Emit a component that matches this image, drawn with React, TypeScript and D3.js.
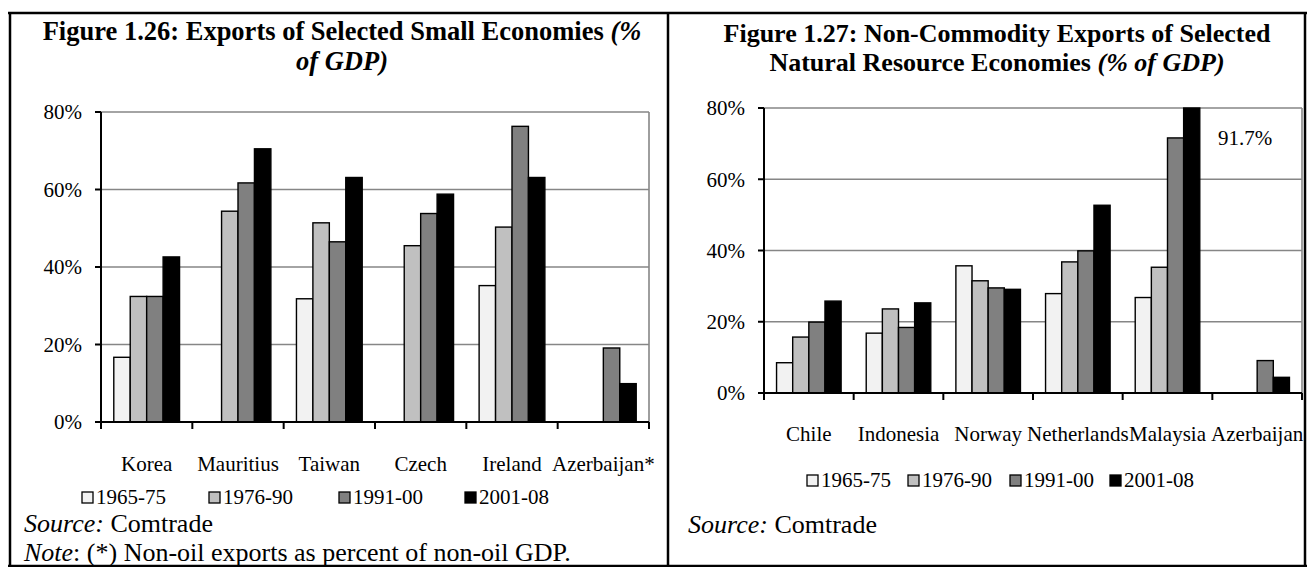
import React from "react";
import * as d3 from "d3";

const SERIES = ["1965-75", "1976-90", "1991-00", "2001-08"];
const COLORS = ["#f2f2f2", "#c0c0c0", "#808080", "#000000"];

const LEFT_CATS = ["Korea", "Mauritius", "Taiwan", "Czech", "Ireland", "Azerbaijan*"];
const LEFT_1965 = [16.7, null, 31.8, null, 35.2, null];
const LEFT_1976 = [32.4, 54.4, 51.4, 45.5, 50.3, null];
const LEFT_1991 = [32.4, 61.7, 46.5, 53.8, 76.3, 19.1];
const LEFT_2001 = [42.6, 70.5, 63.1, 58.8, 63.1, 9.9];

const RIGHT_CATS = ["Chile", "Indonesia", "Norway", "Netherlands", "Malaysia", "Azerbaijan"];
const RIGHT_1965 = [8.5, 16.8, 35.7, 27.9, 26.8, null];
const RIGHT_1976 = [15.7, 23.6, 31.5, 36.8, 35.3, null];
const RIGHT_1991 = [19.9, 18.4, 29.5, 39.9, 71.6, 9.1];
const RIGHT_2001 = [25.8, 25.3, 29.1, 52.7, 91.7, 4.4];

const Y_TICKS = [0, 20, 40, 60, 80];
const MALAYSIA_LABEL = "91.7%";

const FONT = "'Liberation Serif', 'Times New Roman', serif";

type ChartProps = {
  cats: string[];
  series: (number | null)[][];
  x0: number; x1: number; yTop: number; yBot: number;
  tickLabelY: number;
  fontSize: number;
};

function BarChart({ cats, series, x0, x1, yTop, yBot, tickLabelY, fontSize }: ChartProps) {
  const x = d3.scaleBand<string>().domain(cats).range([x0, x1]).paddingInner(0.28).paddingOuter(0.14);
  const xb = d3.scaleBand<string>().domain(cats).range([x0, x1]);
  const y = d3.scaleLinear().domain([0, 80]).range([yBot, yTop]);
  const inner = d3.scaleBand<number>().domain(SERIES.map((_, i) => i)).range([0, x.bandwidth()]);
  return (
    <g>
      {Y_TICKS.filter((t) => t > 0).map((t) => (
        <line key={t} x1={x0} x2={x1} y1={y(t)} y2={y(t)} stroke="#868686" strokeWidth={1.6} />
      ))}
      <line x1={x1} x2={x1} y1={y(80)} y2={y(0)} stroke="#868686" strokeWidth={1.6} />
      {cats.map((c, ci) => (
        <g key={c}>
          {series.map((s, si) => {
            const v = s[ci];
            if (v == null) return null;
            const top = y(Math.min(v, 80));
            return (
              <rect key={si} x={(x(c) as number) + (inner(si) as number)} y={top}
                width={inner.bandwidth()} height={y(0) - top}
                fill={COLORS[si]} stroke="#000" strokeWidth={1.4} />
            );
          })}
        </g>
      ))}
      <line x1={x0} x2={x0} y1={y(80)} y2={y(0)} stroke="#000" strokeWidth={2} />
      {Y_TICKS.map((t) => (
        <g key={t}>
          <line x1={x0 - 6} x2={x0} y1={y(t)} y2={y(t)} stroke="#000" strokeWidth={2} />
          <text x={x0 - 19} y={y(t)} dy="0.35em" textAnchor="end" fontSize={fontSize} fontFamily={FONT}>{t}%</text>
        </g>
      ))}
      <line x1={x0} x2={x1} y1={y(0)} y2={y(0)} stroke="#000" strokeWidth={2} />
      {[...cats.map((c) => xb(c) as number), x1].map((px, i) => (
        <line key={i} x1={px} x2={px} y1={y(0)} y2={y(0) + 7} stroke="#000" strokeWidth={2} />
      ))}
      {cats.map((c) => (
        <text key={c} x={(xb(c) as number) + xb.bandwidth() / 2} y={tickLabelY} textAnchor="middle" fontSize={fontSize} fontFamily={FONT}>{c}</text>
      ))}
    </g>
  );
}

function Legend({ xs, y, fontSize }: { xs: number[]; y: number; fontSize: number }) {
  return (
    <g>
      {SERIES.map((s, i) => (
        <g key={s}>
          <rect x={xs[i]} y={y - 12} width={11} height={11} fill={COLORS[i]} stroke="#000" strokeWidth={1.3} />
          <text x={xs[i] + 14} y={y} fontSize={fontSize} fontFamily={FONT}>{s}</text>
        </g>
      ))}
    </g>
  );
}

export default function App() {
  const W = 1307, H = 567;
  return (
    <svg width={W} height={H} style={{ position: "absolute", left: 0, top: 0, background: "#fff" }}>
      <rect x={0} y={0} width={W} height={H} fill="#fff" />
      {/* frame */}
      <line x1={8} x2={1307} y1={13} y2={13} stroke="#000" strokeWidth={2.5} />
      <line x1={10} x2={10} y1={12} y2={567} stroke="#000" strokeWidth={2.5} />
      <line x1={668} x2={668} y1={12} y2={567} stroke="#000" strokeWidth={2.5} />
      <line x1={1305} x2={1305} y1={12} y2={567} stroke="#000" strokeWidth={2.5} />
      <line x1={8} x2={1307} y1={566} y2={566} stroke="#000" strokeWidth={2.5} />

      {/* left title */}
      <text x={342} y={40} textAnchor="middle" fontSize={26.5} fontWeight="bold" fontFamily={FONT}>
        Figure 1.26: Exports of Selected Small Economies <tspan fontStyle="italic">(%</tspan>
      </text>
      <text x={342} y={69.5} textAnchor="middle" fontSize={26.5} fontWeight="bold" fontStyle="italic" fontFamily={FONT}>of GDP)</text>

      <BarChart cats={LEFT_CATS} series={[LEFT_1965, LEFT_1976, LEFT_1991, LEFT_2001]}
        x0={101} x1={649} yTop={112} yBot={422} tickLabelY={471} fontSize={21} />
      <Legend xs={[82, 209, 339, 465]} y={504} fontSize={21} />
      <text x={24} y={532} fontSize={26} fontFamily={FONT}><tspan fontStyle="italic">Source:</tspan> Comtrade</text>
      <text x={24} y={561} fontSize={26} fontFamily={FONT}><tspan fontStyle="italic">Note</tspan>: (*) Non-oil exports as percent of non-oil GDP.</text>

      {/* right title */}
      <text x={997} y={42} textAnchor="middle" fontSize={26} fontWeight="bold" fontFamily={FONT}>
        Figure 1.27: Non-Commodity Exports of Selected
      </text>
      <text x={997} y={71} textAnchor="middle" fontSize={26} fontWeight="bold" fontFamily={FONT}>
        Natural Resource Economies <tspan fontStyle="italic">(% of GDP)</tspan>
      </text>

      <BarChart cats={RIGHT_CATS} series={[RIGHT_1965, RIGHT_1976, RIGHT_1991, RIGHT_2001]}
        x0={764} x1={1302} yTop={108} yBot={393} tickLabelY={441} fontSize={21} />
      <text x={1245} y={145} textAnchor="middle" fontSize={21} fontFamily={FONT}>{MALAYSIA_LABEL}</text>
      <Legend xs={[807, 908, 1010, 1110]} y={487} fontSize={21} />
      <text x={688} y={533} fontSize={26} fontFamily={FONT}><tspan fontStyle="italic">Source:</tspan> Comtrade</text>
    </svg>
  );
}
